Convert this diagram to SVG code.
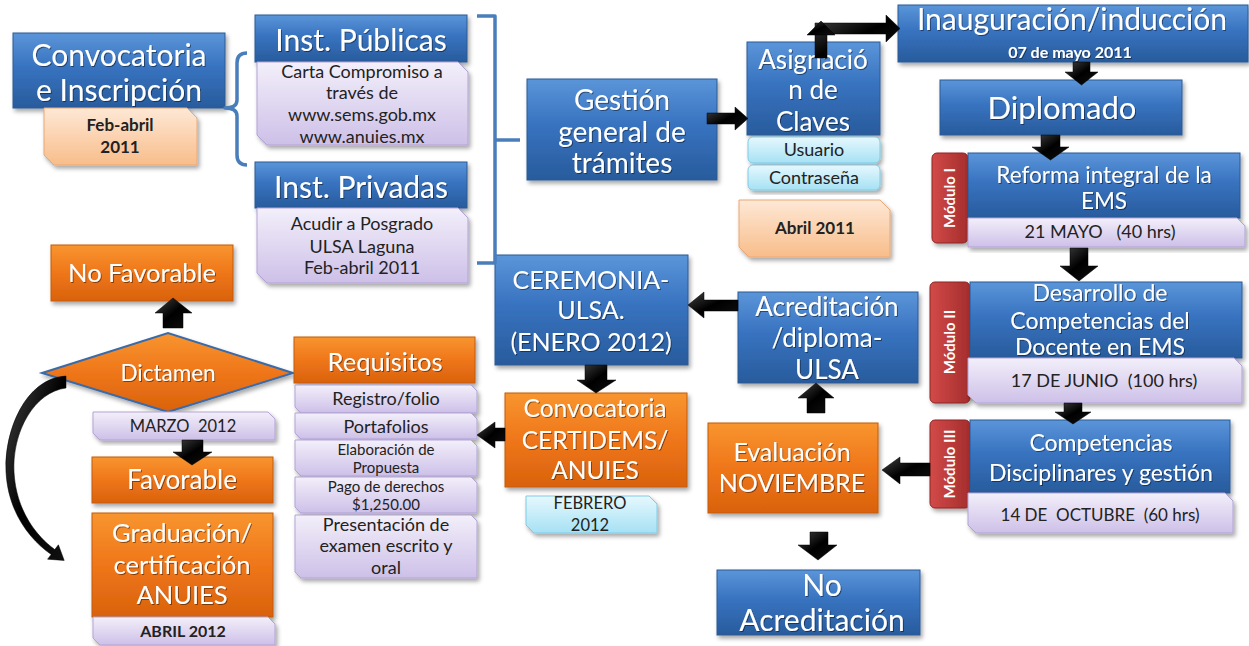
<svg xmlns="http://www.w3.org/2000/svg" width="1249" height="646" viewBox="0 0 1249 646">
<defs>
<linearGradient id="gB" x1="0" y1="0" x2="0" y2="1"><stop offset="0" stop-color="#5b95d9"/><stop offset="0.45" stop-color="#3873c0"/><stop offset="1" stop-color="#285b9c"/></linearGradient>
<linearGradient id="gO" x1="0" y1="0" x2="0" y2="1"><stop offset="0" stop-color="#f8952f"/><stop offset="0.5" stop-color="#ef761a"/><stop offset="1" stop-color="#d9620c"/></linearGradient>
<linearGradient id="gP" x1="0" y1="0" x2="0" y2="1"><stop offset="0" stop-color="#f3effa"/><stop offset="1" stop-color="#cdc0e8"/></linearGradient>
<linearGradient id="gC" x1="0" y1="0" x2="0" y2="1"><stop offset="0" stop-color="#e6f8fe"/><stop offset="1" stop-color="#a6e1f4"/></linearGradient>
<linearGradient id="gPe" x1="0" y1="0" x2="0" y2="1"><stop offset="0" stop-color="#fee8d6"/><stop offset="1" stop-color="#f8bd8a"/></linearGradient>
<linearGradient id="gR" x1="0" y1="0" x2="1" y2="0"><stop offset="0" stop-color="#d24a49"/><stop offset="1" stop-color="#a52d2d"/></linearGradient>
<linearGradient id="gA" x1="0" y1="0" x2="1" y2="1"><stop offset="0" stop-color="#444"/><stop offset="0.5" stop-color="#000"/><stop offset="1" stop-color="#111"/></linearGradient>
<filter id="sh" x="-10%" y="-10%" width="125%" height="130%"><feDropShadow dx="2" dy="3" stdDeviation="2" flood-color="#000" flood-opacity="0.35"/></filter>
<filter id="ts" x="-5%" y="-20%" width="110%" height="140%"><feDropShadow dx="1" dy="1" stdDeviation="0.6" flood-color="#000" flood-opacity="0.45"/></filter>
</defs>
<style>
.b{fill:url(#gB);stroke:#2b5a95;stroke-width:1;filter:url(#sh)}
.o{fill:url(#gO);stroke:#c45a0c;stroke-width:1;filter:url(#sh)}
.p{fill:url(#gP);stroke:#b3a3d6;stroke-width:1;filter:url(#sh)}
.c{fill:url(#gC);stroke:#7fcbe6;stroke-width:1;filter:url(#sh)}
.pe{fill:url(#gPe);stroke:#e8a877;stroke-width:1;filter:url(#sh)}
.r{fill:url(#gR);stroke:#8e2424;stroke-width:1;filter:url(#sh)}
.ar{fill:url(#gA);stroke:#000;stroke-width:0.5}
.br{fill:none;stroke:#4a7ebb;stroke-width:3.5;stroke-linejoin:round}
text{font-family:Lato,"Liberation Sans",sans-serif;text-anchor:middle}
.w{fill:#fff;filter:url(#ts)}
.d{fill:#222}
.bd{font-weight:bold}
.s18{font-size:18px}
.s15{font-size:15px}
.m{font-size:15px;font-weight:bold;fill:#fff}
</style>

<g id="convocatoria">
<rect class="b" x="13" y="33" width="212" height="75"/>
<text class="w" style="font-size:30px" x="119" y="66">Convocatoria</text>
<text class="w" style="font-size:30px" x="119" y="101">e Inscripción</text>
</g>
<g id="feb-abril">
<path class="pe" d="M44,108 H187 L197,118 V165 H54 L44,155 Z"/>
<text class="d bd" style="font-size:17px" x="120" y="131">Feb-abril</text>
<text class="d bd" style="font-size:17px" x="120" y="153">2011</text>
</g>
<g id="inst-publicas">
<rect class="b" x="255" y="15" width="212" height="47"/>
<text class="w" style="font-size:30px" x="361" y="51">Inst. Públicas</text>
<path class="p" d="M257,62 H458 L468,72 V145 H267 L257,135 Z"/>
<text class="d s18" x="362" y="78">Carta Compromiso a</text>
<text class="d s18" x="362" y="99">través de</text>
<text class="d s18" x="362" y="121">www.sems.gob.mx</text>
<text class="d s18" x="362" y="143">www.anuies.mx</text>
</g>
<g id="inst-privadas">
<rect class="b" x="255" y="162" width="212" height="46"/>
<text class="w" style="font-size:30px" x="361" y="198">Inst. Privadas</text>
<path class="p" d="M257,208 H458 L468,218 V283 H267 L257,273 Z"/>
<text class="d s18" x="362" y="230">Acudir a Posgrado</text>
<text class="d s18" x="362" y="253">ULSA Laguna</text>
<text class="d s18" x="362" y="274">Feb-abril 2011</text>
</g>
<g id="gestion">
<rect class="b" x="527" y="79" width="190" height="101"/>
<text class="w" style="font-size:28px" x="622" y="110">Gestión</text>
<text class="w" style="font-size:28px" x="622" y="142">general de</text>
<text class="w" style="font-size:28px" x="622" y="173">trámites</text>
</g>
<g id="asignacion">
<rect class="b" x="747" y="42" width="133" height="93"/>
<text class="w" style="font-size:26px" x="813" y="69">Asignació</text>
<text class="w" style="font-size:26px" x="813" y="99">n de</text>
<text class="w" style="font-size:26px" x="813" y="131">Claves</text>
<rect class="c" x="748" y="137" width="132" height="26" rx="5"/>
<text class="d s18" x="814" y="156">Usuario</text>
<rect class="c" x="748" y="165" width="132" height="25" rx="5"/>
<text class="d s18" x="814" y="184">Contraseña</text>
</g>
<g id="abril-2011">
<path class="pe" d="M739,200 H880 L890,210 V257 H749 L739,247 Z"/>
<text class="d bd" style="font-size:17px" x="815" y="234">Abril 2011</text>
</g>
<g id="inauguracion">
<rect class="b" x="898" y="5" width="350" height="57"/>
<text class="w" style="font-size:30px" x="1072" y="30">Inauguración/inducción</text>
<text class="w bd" style="font-size:16px" x="1070" y="58">07 de mayo 2011</text>
</g>
<g id="diplomado">
<rect class="b" x="940" y="80" width="242" height="55"/>
<text class="w" style="font-size:31px" x="1062" y="119">Diplomado</text>
</g>
<g id="modulo1">
<rect class="r" x="932" y="153" width="36" height="90" rx="5"/>
<text class="m" transform="translate(955,198) rotate(-90)">Módulo I</text>
<rect class="b" x="968" y="153" width="272" height="65"/>
<text class="w" style="font-size:22.5px" x="1104" y="183">Reforma integral de la</text>
<text class="w" style="font-size:22.5px" x="1104" y="209">EMS</text>
<path class="p" d="M968,218 H1237 L1245,226 V247 H968 Z"/>
<text class="d s18" x="1100" y="238" style="white-space:pre">21 MAYO   (40 hrs)</text>
</g>
<g id="modulo2">
<rect class="r" x="930" y="282" width="40" height="121" rx="5"/>
<text class="m" transform="translate(955,342) rotate(-90)">Módulo II</text>
<rect class="b" x="970" y="282" width="272" height="76"/>
<text class="w" style="font-size:23px" x="1100" y="301">Desarrollo de</text>
<text class="w" style="font-size:23px" x="1100" y="329">Competencias del</text>
<text class="w" style="font-size:23px" x="1100" y="355">Docente en EMS</text>
<path class="p" d="M968,358 H1234 L1242,366 V403 H976 L968,395 Z"/>
<text class="d s18" x="1104" y="387" style="white-space:pre">17 DE JUNIO  (100 hrs)</text>
</g>
<g id="modulo3">
<rect class="r" x="930" y="420" width="40" height="88" rx="5"/>
<text class="m" transform="translate(955,464) rotate(-90)">Módulo III</text>
<rect class="b" x="970" y="420" width="260" height="73"/>
<text class="w" style="font-size:23px" x="1101" y="451">Competencias</text>
<text class="w" style="font-size:23px" x="1101" y="481">Disciplinares y gestión</text>
<path class="p" d="M968,493 H1225 L1233,501 V533 H976 L968,525 Z"/>
<text class="d" style="font-size:17px;white-space:pre" x="1100" y="521">14 DE  OCTUBRE  (60 hrs)</text>
</g>
<g id="ceremonia">
<rect class="b" x="495" y="255" width="193" height="110"/>
<text class="w" style="font-size:25px" x="591" y="289">CEREMONIA-</text>
<text class="w" style="font-size:25px" x="591" y="319">ULSA.</text>
<text class="w" style="font-size:25px" x="591" y="351">(ENERO 2012)</text>
</g>
<g id="acreditacion">
<rect class="b" x="738" y="292" width="180" height="91"/>
<text class="w" style="font-size:26px" x="827" y="316">Acreditación</text>
<text class="w" style="font-size:26px" x="827" y="347">/diploma-</text>
<text class="w" style="font-size:26px" x="827" y="379">ULSA</text>
</g>
<g id="convocatoria-certidems">
<rect class="o" x="505" y="393" width="182" height="94"/>
<text class="w" style="font-size:24.5px" x="595" y="417">Convocatoria</text>
<text class="w" style="font-size:24.5px" x="595" y="449">CERTIDEMS/</text>
<text class="w" style="font-size:24.5px" x="595" y="479">ANUIES</text>
</g>
<g id="febrero-2012">
<path class="c" d="M526,496 H649 L657,504 V533 H534 L526,525 Z"/>
<text class="d" style="font-size:16.5px" x="590" y="509">FEBRERO</text>
<text class="d" style="font-size:16.5px" x="590" y="531">2012</text>
</g>
<g id="evaluacion">
<rect class="o" x="708" y="423" width="170" height="90"/>
<text class="w" style="font-size:25px" x="792" y="461">Evaluación</text>
<text class="w" style="font-size:25px" x="792" y="492">NOVIEMBRE</text>
</g>
<g id="no-acreditacion">
<rect class="b" x="717" y="570" width="203" height="65"/>
<text class="w" style="font-size:30px" x="822" y="596">No</text>
<text class="w" style="font-size:30px" x="822" y="631">Acreditación</text>
</g>
<g id="no-favorable">
<rect class="o" x="51" y="245" width="182" height="56"/>
<text class="w" style="font-size:25.5px" x="142" y="282">No Favorable</text>
</g>
<g id="dictamen">
<polygon points="42,373 168,333 293,373 168,412" fill="url(#gO)" stroke="#3a6aa8" stroke-width="2" filter="url(#sh)"/>
<text class="w" style="font-size:22.5px" x="168" y="381">Dictamen</text>
</g>
<g id="marzo-2012">
<path class="p" d="M93,412 H268 L275,419 V440 H100 L93,433 Z"/>
<text class="d" style="font-size:16.5px;white-space:pre" x="183" y="432">MARZO  2012</text>
</g>
<g id="favorable">
<rect class="o" x="92" y="457" width="181" height="46"/>
<text class="w" style="font-size:26px" x="182" y="489">Favorable</text>
</g>
<g id="graduacion">
<rect class="o" x="92" y="513" width="181" height="104"/>
<text class="w" style="font-size:25.5px" x="182" y="542">Graduación/</text>
<text class="w" style="font-size:25.5px" x="182" y="574">certificación</text>
<text class="w" style="font-size:25.5px" x="182" y="604">ANUIES</text>
</g>
<g id="abril-2012">
<path class="p" d="M93,617 H268 L275,624 V645 H100 L93,638 Z"/>
<text class="d bd" style="font-size:16px" x="183" y="637">ABRIL 2012</text>
</g>
<g id="requisitos">
<rect class="o" x="294" y="337" width="181" height="46"/>
<text class="w" style="font-size:25.5px" x="385" y="371">Requisitos</text>
<path class="p" d="M295,385 H471 L477,391 V413 H301 L295,407 Z"/>
<text class="d s18" x="386" y="405">Registro/folio</text>
<path class="p" d="M295,413 H471 L477,419 V439 H301 L295,433 Z"/>
<text class="d s18" x="386" y="433">Portafolios</text>
<path class="p" d="M295,440 H471 L477,446 V476 H301 L295,470 Z"/>
<text class="d s15" x="386" y="455">Elaboración de</text>
<text class="d s15" x="386" y="473">Propuesta</text>
<path class="p" d="M295,477 H471 L477,483 V513 H301 L295,507 Z"/>
<text class="d s15" x="386" y="492">Pago de derechos</text>
<text class="d s15" x="386" y="510">$1,250.00</text>
<path class="p" d="M295,515 H471 L477,521 V578 H301 L295,572 Z"/>
<text class="d s18" x="386" y="531">Presentación de</text>
<text class="d s18" x="386" y="552">examen escrito y</text>
<text class="d s18" x="386" y="574">oral</text>
</g>

<g id="connectors">
<path class="br" d="M247,53 Q237,53 237,63 V100 Q237,108 225,108 Q237,108 237,116 V155 Q237,165 247,165"/>
<path class="br" d="M477,16 H495 V263 H477 M495,140 H520"/>
<polygon class="ar" points="707,113 735,113 735,107 748,118.5 735,130 735,124 707,124"/>
<path class="ar" d="M815,58 V23 H886 V15 L900,28.5 L886,42 V34 H827 V58 Z"/>
<polygon class="ar" points="807,35 821,21 835,35"/>
<polygon class="ar" points="1073,62 1090,62 1090,72 1098,72 1081.5,85 1065,72 1073,72"/>
<polygon class="ar" points="1041,135 1060,135 1060,147 1069,147 1050.5,160 1032,147 1041,147"/>
<polygon class="ar" points="1070,248 1088,248 1088,266 1098,266 1079,281 1060,266 1070,266"/>
<polygon class="ar" points="1064,403 1082,403 1082,412 1091,412 1073,424 1055,412 1064,412"/>
<polygon class="ar" points="930,463 900,463 900,457 882,470 900,484 900,476 930,476"/>
<polygon class="ar" points="807,413 825,413 825,398 834,398 816,383 798,398 807,398"/>
<polygon class="ar" points="738,300 704,300 704,292 688,305 704,318 704,311 738,311"/>
<polygon class="ar" points="585,365 607,365 607,380 616,380 596,393 577,380 585,380"/>
<polygon class="ar" points="505,428 495,428 495,422 477,435 495,448 495,441 505,441"/>
<polygon class="ar" points="810,532 828,532 828,545 837,545 818,560 798,545 810,545"/>
<polygon class="ar" points="163,328 183,328 183,313 192,313 173,298 155,313 163,313"/>
<polygon class="ar" points="182,440 203,440 203,452 212,452 192,465 173,452 182,452"/>
<path class="ar" d="M66,376 C26,378 4,430 6,472 C8,512 30,540 51.2,554.4 L47.6,559.2 L64.2,560.4 L58.4,544.8 L54.8,549.6 C36,536 16,510 14,472 C12,432 34,392 66,388 Z"/>
</g>
</svg>
